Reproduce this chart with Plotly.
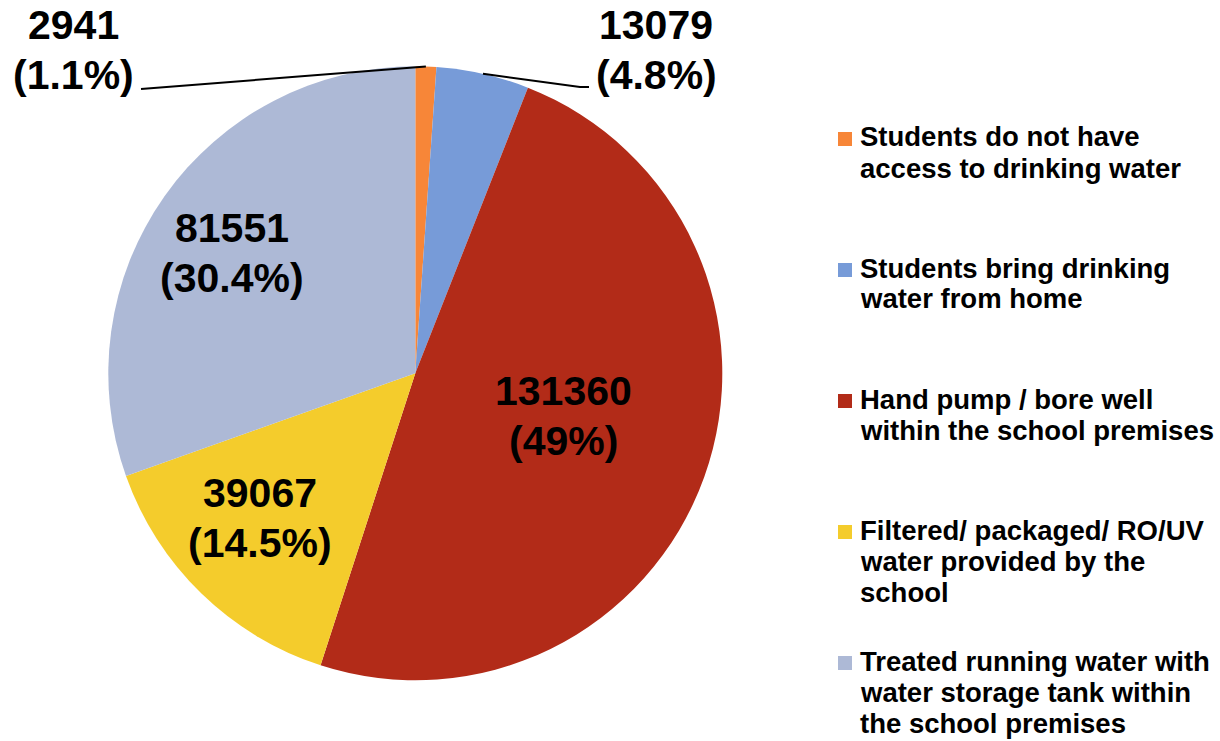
import math
import plotly.graph_objects as go

# ---------------- data ----------------
categories = [
    "Students do not have access to drinking water",
    "Students bring drinking water from home",
    "Hand pump / bore well within the school premises",
    "Filtered/ packaged/ RO/UV water provided by the school",
    "Treated running water with water storage tank within the school premises",
]
legend_lines = [
    ["Students do not have", "access to drinking water"],
    ["Students bring drinking", "water from home"],
    ["Hand pump / bore well", "within the school premises"],
    ["Filtered/ packaged/ RO/UV", "water provided by the", "school"],
    ["Treated running water with", "water storage tank within", "the school premises"],
]
values = [2941, 13079, 131360, 39067, 81551]
pct_labels = ["1.1%", "4.8%", "49%", "14.5%", "30.4%"]
colors = ["#F78638", "#779BD8", "#B22B18", "#F4CC2C", "#ADB9D6"]

# ---------------- layout constants (pixels) ----------------
W, H = 1220, 741
CX, CY, R = 415.3, 373.3, 307.0
FONT = "Liberation Sans, Arial, sans-serif"
LABEL_SIZE = 41
LABEL_GAP = 50
label_centers = [(73, 50), (656, 50), (563, 416), (260, 518), (232, 253)]
leader_targets = {0: [(141, 89)], 1: [(580, 87), (589, 87)]}
LEG_SQ_X0, LEG_SQ = 838, 14
LEG_TEXT_X = 858
LEG_FIRST, LEG_STEP, LEG_LINE = 139, 131, 31
LEG_SIZE = 27.5


def px(x):
    return x / W


def py(y):
    return 1 - y / H


fig = go.Figure(
    go.Pie(
        labels=categories,
        values=values,
        sort=False,
        direction="clockwise",
        rotation=0,
        textinfo="none",
        marker=dict(colors=colors, line=dict(width=0)),
        domain=dict(x=[px(CX - R), px(CX + R)], y=[py(CY + R), py(CY - R)]),
        showlegend=False,
        hovertemplate="%{label}<br>%{value}<extra></extra>",
    )
)

annotations = []
shapes = []

# data labels (two lines each)
for i, (v, p) in enumerate(zip(values, pct_labels)):
    lx, ly = label_centers[i]
    for j, t in enumerate([str(v), f"({p})"]):
        annotations.append(dict(
            x=px(lx), y=py(ly - LABEL_GAP / 2 + j * LABEL_GAP),
            xref="paper", yref="paper", xanchor="center", yanchor="middle",
            text=t, showarrow=False,
            font=dict(family=FONT, size=LABEL_SIZE, color="#000000", weight="bold"),
        ))

# leader lines from slice rim (mid angle computed from data) to labels
total = sum(values)
cum = 0
for i, v in enumerate(values):
    mid = (cum + v / 2) / total * 2 * math.pi
    cum += v
    if i in leader_targets:
        pts = [(CX + R * math.sin(mid), CY - R * math.cos(mid))] + leader_targets[i]
        path = "M " + " L ".join(f"{px(x):.5f},{py(y):.5f}" for x, y in pts)
        shapes.append(dict(type="path", xref="paper", yref="paper", path=path,
                           line=dict(color="#000000", width=2)))

# legend (squares + text lines)
for i, lines in enumerate(legend_lines):
    yc = LEG_FIRST + i * LEG_STEP
    shapes.append(dict(type="rect", xref="paper", yref="paper",
                       x0=px(LEG_SQ_X0), x1=px(LEG_SQ_X0 + LEG_SQ),
                       y0=py(yc + LEG_SQ / 2), y1=py(yc - LEG_SQ / 2),
                       fillcolor=colors[i], line=dict(width=0)))
    for j, t in enumerate(lines):
        annotations.append(dict(
            x=px(LEG_TEXT_X), y=py(yc - 2 + j * LEG_LINE),
            xref="paper", yref="paper", xanchor="left", yanchor="middle",
            text=t, showarrow=False,
            font=dict(family=FONT, size=LEG_SIZE, color="#000000", weight="bold"),
        ))

fig.update_layout(
    width=W, height=H,
    margin=dict(l=0, r=0, t=0, b=0),
    paper_bgcolor="#FFFFFF",
    plot_bgcolor="#FFFFFF",
    annotations=annotations,
    shapes=shapes,
    showlegend=False,
)

fig.write_html(
    "out.html",
    config={"displayModeBar": False},
    post_script="document.body.style.margin='0';document.body.style.overflow='hidden';",
)
